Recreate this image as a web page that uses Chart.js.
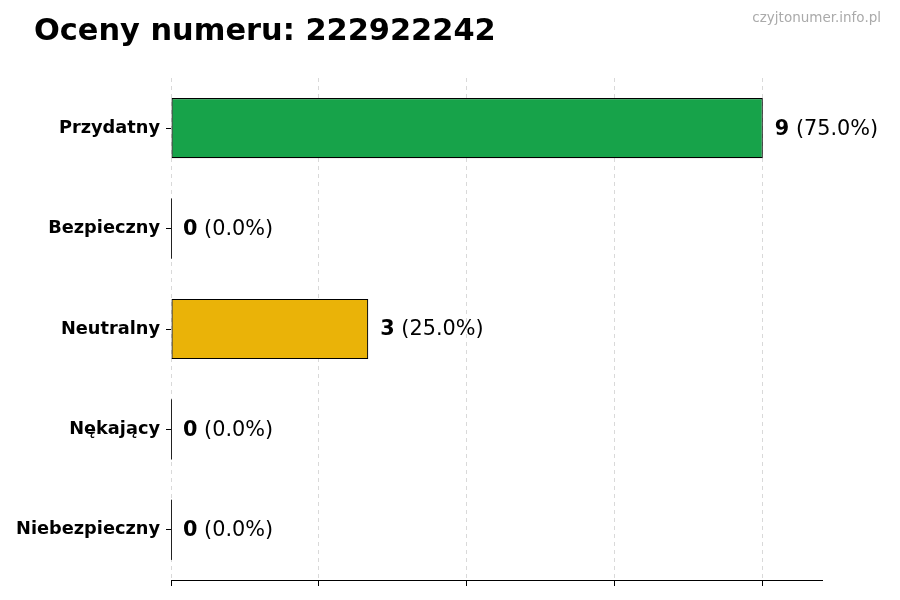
<!DOCTYPE html>
<html lang="pl">
<head>
<meta charset="UTF-8">
<title>Oceny numeru</title>
<script src="https://cdn.jsdelivr.net/npm/chart.js@4"></script>
<style>
  html, body { margin: 0; padding: 0; background: #fff; }
  #wrap { width: 900px; height: 600px; }
</style>
</head>
<body>
<div id="wrap"><canvas id="chart" width="900" height="600"></canvas></div>
<script>
const categories = ['Przydatny', 'Bezpieczny', 'Neutralny', 'Nękający', 'Niebezpieczny'];
const counts = [9, 0, 3, 0, 0];
const barColors = ['#17a34a', '#3b82f6', '#eab308', '#f97316', '#dc2626'];
const titleText = 'Oceny numeru: 222922242';
const siteText = 'czyjtonumer.info.pl';

const total = counts.reduce((s, v) => s + v, 0);
const FONT = "'DejaVu Sans', sans-serif";

// value labels, zero-bar edges, title and watermark
const labelsPlugin = {
    id: 'labels',
    afterDatasetsDraw(chart) {
        const ctx = chart.ctx;
        const meta = chart.getDatasetMeta(0);
        const x0 = chart.scales.x.getPixelForValue(0);
        ctx.save();
        meta.data.forEach((bar, i) => {
            const v = counts[i];
            if (v === 0) {
                ctx.strokeStyle = '#222';
                ctx.lineWidth = 1;
                ctx.beginPath();
                ctx.moveTo(x0 + 0.5, bar.y - bar.height / 2);
                ctx.lineTo(x0 + 0.5, bar.y + bar.height / 2);
                ctx.stroke();
            }
            const pct = total ? (v / total * 100).toFixed(1) : '0.0';
            let x = bar.x + 12;
            ctx.fillStyle = '#000';
            ctx.textBaseline = 'middle';
            ctx.textAlign = 'left';
            ctx.font = 'bold 20.8px ' + FONT;
            ctx.fillText(String(v), x, bar.y + 1);
            x += ctx.measureText(String(v)).width;
            ctx.font = '20.8px ' + FONT;
            ctx.fillText(' (' + pct + '%)', x, bar.y + 1);
        });
        ctx.restore();
    },
    afterDraw(chart) {
        const ctx = chart.ctx;
        ctx.save();
        ctx.textBaseline = 'middle';
        ctx.fillStyle = '#000';
        ctx.font = 'bold 30.4px ' + FONT;
        ctx.textAlign = 'left';
        ctx.fillText(titleText, 34, 32);
        ctx.fillStyle = '#aaaaaa';
        ctx.font = '13.5px ' + FONT;
        ctx.textAlign = 'right';
        ctx.fillText(siteText, 881, 18);
        ctx.restore();
    }
};

new Chart(document.getElementById('chart'), {
    type: 'bar',
    data: {
        labels: categories,
        datasets: [{
            data: counts,
            backgroundColor: barColors,
            borderColor: '#000',
            borderWidth: 1.2,
            borderSkipped: false,
            barPercentage: 0.6,
            categoryPercentage: 1
        }]
    },
    options: {
        indexAxis: 'y',
        responsive: false,
        animation: false,
        devicePixelRatio: 1,
        layout: { padding: { top: 78, right: 78, left: 0, bottom: 0 } },
        plugins: {
            legend: { display: false },
            tooltip: { enabled: false }
        },
        scales: {
            x: {
                min: 0,
                max: 9.9,
                afterBuildTicks(scale) {
                    scale.ticks = [0, 2.25, 4.5, 6.75, 9].map(v => ({ value: v }));
                },
                afterFit(scale) { scale.height = 20; },
                z: 1,
                ticks: { display: false },
                grid: {
                    color: 'rgba(170,170,170,0.45)',
                    lineWidth: 1,
                    tickColor: '#000',
                    tickLength: 6,
                    tickBorderDash: []
                },
                border: { display: true, color: '#000', width: 1, dash: [4, 4] }
            },
            y: {
                afterFit(scale) { scale.width = 171; },
                ticks: {
                    color: '#000',
                    padding: 6,
                    font: { family: FONT, size: 17.75, weight: 'bold' }
                },
                grid: {
                    drawOnChartArea: false,
                    tickColor: '#000',
                    tickLength: 5,
                    offset: false
                },
                border: { display: false }
            }
        }
    },
    plugins: [labelsPlugin]
});
</script>
</body>
</html>
